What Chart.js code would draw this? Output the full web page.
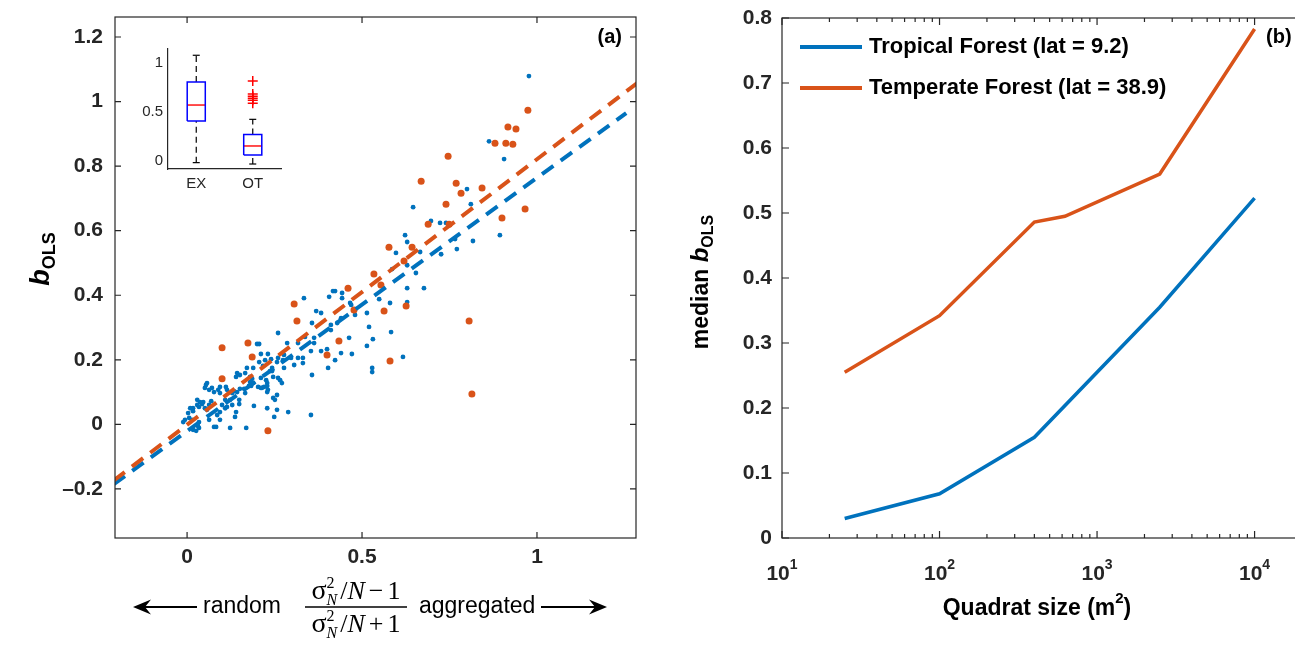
<!DOCTYPE html>
<html lang="en">
<head>
<meta charset="UTF-8">
<title>b_OLS against aggregation index and quadrat size</title>
<script src="https://cdn.jsdelivr.net/npm/chart.js"></script>
<style>
  body { margin: 0; background: #fff; width: 1295px; height: 645px; overflow: hidden; position: relative; }
  canvas { position: absolute; }
</style>
</head>
<body>
<canvas id="left" style="left:0px;top:0px" width="660" height="645"></canvas>
<canvas id="inset" style="left:120px;top:40px" width="175" height="160"></canvas>
<canvas id="right" style="left:660px;top:0px" width="670" height="645"></canvas>

<script>
// ---- panel (a): scatter, [aggregation index, b_OLS]
const bluePoints = [
  [0.977,1.079],[0.863,0.877],[0.906,0.822],[0.8,0.729],[0.811,0.682],[0.646,0.673],[0.697,0.63],[0.723,0.624],
  [0.74,0.624],[0.623,0.586],[0.629,0.565],[0.597,0.531],[0.666,0.534],[0.766,0.574],[0.771,0.543],[0.817,0.568],
  [0.894,0.586],[0.726,0.527],[0.586,0.481],[0.629,0.493],[0.654,0.469],[0.629,0.422],[0.677,0.422],
  [0.629,0.379],[0.58,0.376],[0.549,0.388],[0.583,0.286],[0.617,0.209],[0.52,0.302],[0.531,0.264],[0.514,0.243],
  [0.529,0.175],[0.529,0.162],[0.514,0.345],[0.48,0.339],[0.466,0.376],[0.469,0.37],[0.443,0.407],[0.443,0.391],
  [0.417,0.413],[0.423,0.413],[0.406,0.395],[0.334,0.391],[0.369,0.351],[0.383,0.345],[0.44,0.329],[0.357,0.314],
  [0.411,0.308],[0.411,0.292],[0.429,0.314],[0.463,0.268],[0.471,0.218],[0.44,0.221],[0.423,0.199],[0.403,0.175],
  [0.363,0.252],[0.363,0.268],[0.337,0.271],[0.383,0.227],[0.4,0.233],[0.354,0.227],[0.354,0.029],[0.357,0.153],
  [0.286,0.252],[0.26,0.283],[0.2,0.249],[0.206,0.249],[0.231,0.218],[0.211,0.218],[0.206,0.193],[0.223,0.199],
  [0.217,0.181],[0.277,0.215],[0.297,0.206],[0.274,0.199],[0.277,0.175],[0.317,0.206],[0.306,0.184],[0.331,0.19],
  [0.257,0.193],[0.237,0.165],[0.243,0.165],[0.246,0.147],[0.26,0.144],[0.266,0.137],[0.271,0.128],[0.226,0.137],
  [0.229,0.119],[0.231,0.107],[0.214,0.113],[0.183,0.119],[0.246,0.082],[0.257,0.091],[0.251,0.076],[0.191,0.057],
  [0.229,0.05],[0.289,0.038],[0.249,0.023],
  [0.171,0.175],[0.143,0.159],[0.151,0.153],[0.14,0.147],[0.18,0.147],[0.186,0.141],[0.211,0.144],[0.189,0.128],
  [0.203,0.116],[0.211,0.113],[0.177,0.119],[0.151,0.11],[0.143,0.1],[0.163,0.11],[0.166,0.097],[0.134,0.103],
  [0.089,0.107],[0.094,0.097],[0.071,0.113],[0.063,0.107],[0.077,0.1],[0.057,0.128],[0.051,0.113],[0.111,0.116],
  [0.114,0.107],[0.129,0.097],[0.123,0.076],[0.129,0.06],[0.114,0.054],[0.109,0.05],[0.1,0.06],[0.149,0.076],
  [0.149,0.063],[0.094,0.038],[0.086,0.029],[0.069,0.072],[0.063,0.06],[0.046,0.069],[0.043,0.063],[0.029,0.076],
  [0.037,0.069],[0.029,0.06],[0.034,0.054],[0.017,0.05],[0.017,0.041],[0.009,0.05],[0.003,0.035],[0.006,0.02],
  [0.014,0.014],[-0.011,0.007],[-0.006,0.014],[0.051,0.05],[0.057,0.045],[0.063,0.014],[0.077,-0.008],[0.083,-0.008],
  [0.094,0.014],[0.034,0.007],[0.031,-0.005],[0.034,-0.011],[0.017,-0.017],[0.026,-0.02],[0.123,-0.011],[0.137,0.023],
  [0.14,0.038],[0.169,-0.011],[0.109,0.076],[0.054,0.122],[0.094,0.116],
  [0.257,0.045],[0.22,0.116],[0.229,0.128],[0.229,0.1],[0.18,0.131],[0.166,0.159],[0.189,0.175],[0.243,0.175],
  [0.24,0.202],[0.26,0.206],[0.331,0.206],[0.317,0.252]
];
const orangePoints = [
  [0.1,0.237],[0.174,0.252],[0.1,0.141],[0.186,0.209],[0.231,-0.02],[0.306,0.373],[0.314,0.32],[0.4,0.215],
  [0.434,0.258],[0.46,0.422],[0.477,0.354],[0.534,0.466],[0.554,0.432],[0.563,0.351],[0.58,0.196],[0.626,0.367],
  [0.974,0.973],[0.917,0.921],[0.94,0.915],[0.88,0.871],[0.911,0.871],[0.931,0.868],[0.746,0.831],[0.669,0.753],
  [0.769,0.747],[0.783,0.716],[0.843,0.732],[0.74,0.682],[0.689,0.62],[0.749,0.62],[0.966,0.667],[0.9,0.639],
  [0.577,0.549],[0.643,0.549],[0.62,0.506],[0.806,0.32],[0.814,0.094]
];
// fitted lines, end points
const blueFit = [[-0.21,-0.186],[1.255,0.964]];
const orangeFit = [[-0.21,-0.174],[1.29,1.060]];

const xTicksA = [0, 0.5, 1];
const xTickLabelsA = ['0', '0.5', '1'];
const yTicksA = [-0.2, 0, 0.2, 0.4, 0.6, 0.8, 1, 1.2];
const yTickLabelsA = ['\u20130.2', '0', '0.2', '0.4', '0.6', '0.8', '1', '1.2'];

// ---- inset boxplot
const boxGroups = ['EX', 'OT'];
const boxLow = [-0.017, -0.031];
const boxQ1 = [0.408, 0.061];
const boxMedian = [0.571, 0.153];
const boxQ3 = [0.806, 0.269];
const boxHigh = [1.079, 0.425];
const boxOutliers = [[], [0.816, 0.684, 0.66, 0.64, 0.62, 0.59]];
const yTicksInset = [0, 0.5, 1];
const yTickLabelsInset = ['0', '0.5', '1'];

// ---- panel (b): median b_OLS against quadrat size
const quadratSize = [25, 100, 400, 625, 2500, 10000];
const tropicalMedian = [0.030, 0.068, 0.155, null, 0.355, 0.523];
const temperateMedian = [0.255, 0.342, 0.486, 0.495, 0.560, 0.783];
const forestNames = ['Tropical Forest (lat = 9.2)', 'Temperate Forest (lat = 38.9)'];
const xDecadesB = [10, 100, 1000, 10000];
const xTickExpB = ['1', '2', '3', '4'];
const yTicksB = [0, 0.1, 0.2, 0.3, 0.4, 0.5, 0.6, 0.7, 0.8];
const yTickLabelsB = ['0', '0.1', '0.2', '0.3', '0.4', '0.5', '0.6', '0.7', '0.8'];

const ink = '#262626';
const blue = '#0072BD', orange = '#D95319';
const sans = '"Liberation Sans", Arial, Helvetica, sans-serif';
const serif = '"Liberation Serif", "DejaVu Serif", "Times New Roman", serif';
const font = (size, weight = 'normal', style = 'normal', fam = sans) => `${style} ${weight} ${size}px ${fam}`;

Chart.defaults.font.family = sans;
Chart.defaults.color = ink;

// rich text: runs with own font and vertical offset; stack=true puts the next run at the same x
function layoutRuns(ctx, runs) {
  let x = 0, stackW = 0;
  const out = [];
  runs.forEach(r => {
    ctx.font = r.f;
    const w = ctx.measureText(r.t).width;
    x += r.pre || 0;
    out.push(Object.assign({}, r, { x: x }));
    if (r.stack) { stackW = w; return; }
    x += Math.max(w, stackW);
    stackW = 0;
  });
  return { out: out, width: x };
}
function drawRuns(ctx, runs, x, y) {
  const l = layoutRuns(ctx, runs);
  const x0 = x - l.width / 2;
  ctx.textAlign = 'left';
  l.out.forEach(r => { ctx.font = r.f; ctx.fillText(r.t, x0 + r.x, y + (r.dy || 0)); });
}

function drawArrow(ctx, tail, tip, y) {
  const d = Math.sign(tip - tail);
  ctx.beginPath();
  ctx.moveTo(tail, y); ctx.lineTo(tip - d * 10, y);
  ctx.stroke();
  ctx.beginPath();
  ctx.moveTo(tip, y);
  ctx.lineTo(tip - d * 18, y - 7.5);
  ctx.lineTo(tip - d * 12, y);
  ctx.lineTo(tip - d * 18, y + 7.5);
  ctx.closePath();
  ctx.fill();
}

function fracRuns(sign) {
  return [
    { t: '\u03C3', f: font(28, 'normal', 'normal', serif) },
    { t: '2', f: font(16, 'normal', 'normal', serif), dy: -11, stack: true },
    { t: 'N', f: font(16, 'normal', 'italic', serif), dy: 6 },
    { t: '/', f: font(26, 'normal', 'normal', serif), pre: 3 },
    { t: 'N', f: font(26, 'normal', 'italic', serif) },
    { t: sign, f: font(26, 'normal', 'normal', serif), pre: 4 },
    { t: '1', f: font(26, 'normal', 'normal', serif), pre: 4 }
  ];
}

// box with inward ticks on all four sides
const framePlugin = {
  id: 'frame',
  afterDatasetsDraw(chart, args, opts) {
    const { ctx, chartArea: a } = chart;
    const xs = chart.scales.x, ys = chart.scales.y;
    const isMajor = v => xs.type !== 'logarithmic' ||
      Math.abs(Math.log10(v) - Math.round(Math.log10(v))) < 1e-9;
    ctx.save();
    ctx.strokeStyle = ink;
    ctx.lineWidth = 1.2;
    ctx.beginPath();
    xs.ticks.forEach(t => {
      const p = xs.getPixelForValue(t.value);
      const len = isMajor(t.value) ? opts.major : opts.minor;
      ctx.moveTo(p, a.bottom); ctx.lineTo(p, a.bottom - len);
      ctx.moveTo(p, a.top); ctx.lineTo(p, a.top + len);
    });
    ys.ticks.forEach(t => {
      const p = ys.getPixelForValue(t.value);
      ctx.moveTo(a.left, p); ctx.lineTo(a.left + opts.major, p);
      ctx.moveTo(a.right, p); ctx.lineTo(a.right - opts.major, p);
    });
    ctx.stroke();
    ctx.strokeRect(a.left, a.top, a.right - a.left, a.bottom - a.top);
    ctx.restore();
  }
};

const leftText = {
  id: 'leftText',
  afterDraw(chart) {
    const { ctx, chartArea: a } = chart;
    ctx.save();
    ctx.fillStyle = '#000';
    ctx.textBaseline = 'middle';
    ctx.textAlign = 'right';
    ctx.font = font(20, 'bold');
    ctx.fillText('(a)', a.right - 14, a.top + 20);

    // y title, rotated
    ctx.save();
    ctx.translate(a.left - 66, 259);
    ctx.rotate(-Math.PI / 2);
    ctx.textBaseline = 'alphabetic';
    drawRuns(ctx, [
      { t: 'b', f: font(27, 'bold', 'italic') },
      { t: 'OLS', f: font(18, 'bold'), dy: 6 }
    ], 0, 0);
    ctx.restore();

    // x title: arrows, words and fraction
    const y = a.bottom + 69;
    ctx.strokeStyle = '#000';
    ctx.lineWidth = 2;
    drawArrow(ctx, a.left + 82, a.left + 18, y);
    drawArrow(ctx, a.left + 426, a.left + 492, y);
    ctx.textAlign = 'left';
    ctx.font = font(23);
    ctx.fillText('random', a.left + 88, y);
    ctx.fillText('aggregated', a.left + 304, y);
    const cx = a.left + 241;
    ctx.lineWidth = 1.6;
    ctx.beginPath();
    ctx.moveTo(cx - 51, y); ctx.lineTo(cx + 51, y);
    ctx.stroke();
    ctx.textBaseline = 'alphabetic';
    drawRuns(ctx, fracRuns('\u2212'), cx, y - 8);
    drawRuns(ctx, fracRuns('+'), cx, y + 25);
    ctx.restore();
  }
};

new Chart(document.getElementById('left'), {
  type: 'scatter',
  data: {
    datasets: [
      { type: 'line', label: 'fit orange', data: orangeFit.map(p => ({ x: p[0], y: p[1] })),
        borderColor: orange, borderWidth: 4, borderDash: [14, 9], pointRadius: 0, clip: 0, order: 0 },
      { type: 'line', label: 'fit blue', data: blueFit.map(p => ({ x: p[0], y: p[1] })),
        borderColor: blue, borderWidth: 4, borderDash: [14, 9], pointRadius: 0, clip: 0, order: 0 },
      { label: 'orange', data: orangePoints.map(p => ({ x: p[0], y: p[1] })),
        pointBackgroundColor: orange, pointBorderWidth: 0, pointRadius: 3.5, order: 1 },
      { label: 'blue', data: bluePoints.map(p => ({ x: p[0], y: p[1] })),
        pointBackgroundColor: blue, pointBorderWidth: 0, pointRadius: 2.4, order: 2 }
    ]
  },
  options: {
    responsive: false,
    animation: false,
    events: [],
    layout: { autoPadding: false, padding: { top: 17, right: 24, left: 0, bottom: 0 } },
    plugins: { legend: { display: false }, tooltip: { enabled: false }, frame: { major: 6, minor: 4 } },
    scales: {
      x: {
        type: 'linear', min: -0.206, max: 1.283,
        grid: { display: false }, border: { display: false },
        afterFit: s => { s.height = 107; },
        afterBuildTicks: s => { s.ticks = xTicksA.map(v => ({ value: v })); },
        ticks: { padding: -1, maxRotation: 0, autoSkip: false, color: ink,
          font: { size: 21, weight: 'bold' }, callback: (v, i) => xTickLabelsA[i] }
      },
      y: {
        type: 'linear', min: -0.352, max: 1.262,
        grid: { display: false }, border: { display: false },
        afterFit: s => { s.width = 115; },
        afterBuildTicks: s => { s.ticks = yTicksA.map(v => ({ value: v })); },
        ticks: { padding: 4, autoSkip: false, color: ink,
          font: { size: 21, weight: 'bold' }, callback: (v, i) => yTickLabelsA[i] }
      }
    }
  },
  plugins: [framePlugin, leftText]
});

// ---- inset
const hw = 0.16, capHw = 0.062;
const insetSets = [];
boxGroups.forEach((g, i) => {
  const c = i + 1;
  insetSets.push({ type: 'line', data: [
    { x: c - hw, y: boxQ1[i] }, { x: c + hw, y: boxQ1[i] }, { x: c + hw, y: boxQ3[i] },
    { x: c - hw, y: boxQ3[i] }, { x: c - hw, y: boxQ1[i] }],
    borderColor: '#0000FF', borderWidth: 1.5, pointRadius: 0 });
  insetSets.push({ type: 'line', data: [{ x: c, y: boxQ3[i] }, { x: c, y: boxHigh[i] }],
    borderColor: '#000', borderWidth: 1.2, borderDash: [6, 4], pointRadius: 0 });
  insetSets.push({ type: 'line', data: [{ x: c, y: boxLow[i] }, { x: c, y: boxQ1[i] }],
    borderColor: '#000', borderWidth: 1.2, borderDash: [6, 4], pointRadius: 0 });
  [boxHigh[i], boxLow[i]].forEach(v => insetSets.push({ type: 'line',
    data: [{ x: c - capHw, y: v }, { x: c + capHw, y: v }],
    borderColor: '#000', borderWidth: 1.2, pointRadius: 0 }));
  insetSets.push({ type: 'line', data: [{ x: c - hw, y: boxMedian[i] }, { x: c + hw, y: boxMedian[i] }],
    borderColor: '#FF0000', borderWidth: 1.4, pointRadius: 0 });
  insetSets.push({ data: boxOutliers[i].map(v => ({ x: c, y: v })),
    pointStyle: 'cross', pointRadius: 5, pointBorderColor: '#FF0000', pointBorderWidth: 1.5 });
});

new Chart(document.getElementById('inset'), {
  type: 'scatter',
  data: { datasets: insetSets },
  options: {
    responsive: false,
    animation: false,
    events: [],
    layout: { autoPadding: false, padding: { top: 9, right: 14, left: 0, bottom: 0 } },
    plugins: { legend: { display: false }, tooltip: { enabled: false } },
    scales: {
      x: {
        type: 'linear', min: 0.5, max: 2.5,
        grid: { display: false }, border: { display: true, color: ink, width: 1.2 },
        afterFit: s => { s.height = 31; },
        afterBuildTicks: s => { s.ticks = boxGroups.map((g, i) => ({ value: i + 1 })); },
        ticks: { padding: -2, maxRotation: 0, autoSkip: false, color: ink,
          font: { size: 15 }, callback: (v, i) => boxGroups[i] }
      },
      y: {
        type: 'linear', min: -0.082, max: 1.143,
        grid: { display: false }, border: { display: true, color: ink, width: 1.2 },
        afterFit: s => { s.width = 48; },
        afterBuildTicks: s => { s.ticks = yTicksInset.map(v => ({ value: v })); },
        ticks: { padding: -3, autoSkip: false, color: ink,
          font: { size: 15 }, callback: (v, i) => yTickLabelsInset[i] }
      }
    }
  }
});

// ---- panel (b)
const rightText = {
  id: 'rightText',
  afterDraw(chart) {
    const { ctx, chartArea: a } = chart;
    const xs = chart.scales.x;
    ctx.save();
    ctx.fillStyle = '#000';
    ctx.textBaseline = 'middle';

    // legend inside the axes
    chart.data.datasets.forEach((ds, i) => {
      const y = a.top + 29 + i * 41;
      ctx.strokeStyle = ds.borderColor;
      ctx.lineWidth = 4;
      ctx.beginPath();
      ctx.moveTo(a.left + 18, y); ctx.lineTo(a.left + 80, y);
      ctx.stroke();
      ctx.textAlign = 'left';
      ctx.font = font(22, 'bold');
      ctx.fillText(ds.label, a.left + 87, y);
    });

    ctx.textAlign = 'left';
    ctx.font = font(20, 'bold');
    ctx.fillText('(b)', a.left + 484, a.top + 19);

    // log tick labels 10^n
    ctx.fillStyle = ink;
    xDecadesB.forEach((v, i) => {
      drawRuns(ctx, [
        { t: '10', f: font(21, 'bold') },
        { t: xTickExpB[i], f: font(14, 'bold'), dy: -9 }
      ], xs.getPixelForValue(v), a.bottom + 36);
    });

    ctx.fillStyle = '#000';
    drawRuns(ctx, [
      { t: 'Quadrat size (m', f: font(23, 'bold') },
      { t: '2', f: font(15, 'bold'), dy: -10 },
      { t: ')', f: font(23, 'bold') }
    ], a.left + 255, a.bottom + 71);

    ctx.save();
    ctx.translate(a.left - 74, 282);
    ctx.rotate(-Math.PI / 2);
    ctx.textBaseline = 'alphabetic';
    drawRuns(ctx, [
      { t: 'median ', f: font(23, 'bold') },
      { t: 'b', f: font(24, 'bold', 'italic') },
      { t: 'OLS', f: font(16, 'bold'), dy: 5 }
    ], 0, 0);
    ctx.restore();
    ctx.restore();
  }
};

const minorTicksB = [];
xDecadesB.forEach(d => { for (let m = 1; m <= 9; m++) if (d * m <= 20000) minorTicksB.push(d * m); });
minorTicksB.push(20000);

new Chart(document.getElementById('right'), {
  type: 'line',
  data: {
    datasets: [
      { label: forestNames[0], data: quadratSize.map((s, i) => ({ x: s, y: tropicalMedian[i] })),
        borderColor: blue, borderWidth: 3.5, pointRadius: 0, spanGaps: true, tension: 0 },
      { label: forestNames[1], data: quadratSize.map((s, i) => ({ x: s, y: temperateMedian[i] })),
        borderColor: orange, borderWidth: 3.5, pointRadius: 0, spanGaps: true, tension: 0 }
    ]
  },
  options: {
    responsive: false,
    animation: false,
    events: [],
    layout: { autoPadding: false, padding: { top: 18, right: 28, left: 0, bottom: 0 } },
    plugins: { legend: { display: false }, tooltip: { enabled: false }, frame: { major: 7, minor: 4 } },
    scales: {
      x: {
        type: 'logarithmic', min: 10, max: 20000,
        grid: { display: false }, border: { display: false },
        afterFit: s => { s.height = 107; },
        afterBuildTicks: s => { s.ticks = minorTicksB.map(v => ({ value: v })); },
        ticks: { display: false }
      },
      y: {
        type: 'linear', min: 0, max: 0.8,
        grid: { display: false }, border: { display: false },
        afterFit: s => { s.width = 122; },
        afterBuildTicks: s => { s.ticks = yTicksB.map(v => ({ value: v })); },
        ticks: { padding: 2, autoSkip: false, color: ink,
          font: { size: 21, weight: 'bold' }, callback: (v, i) => yTickLabelsB[i] }
      }
    }
  },
  plugins: [framePlugin, rightText]
});
</script>
</body>
</html>
